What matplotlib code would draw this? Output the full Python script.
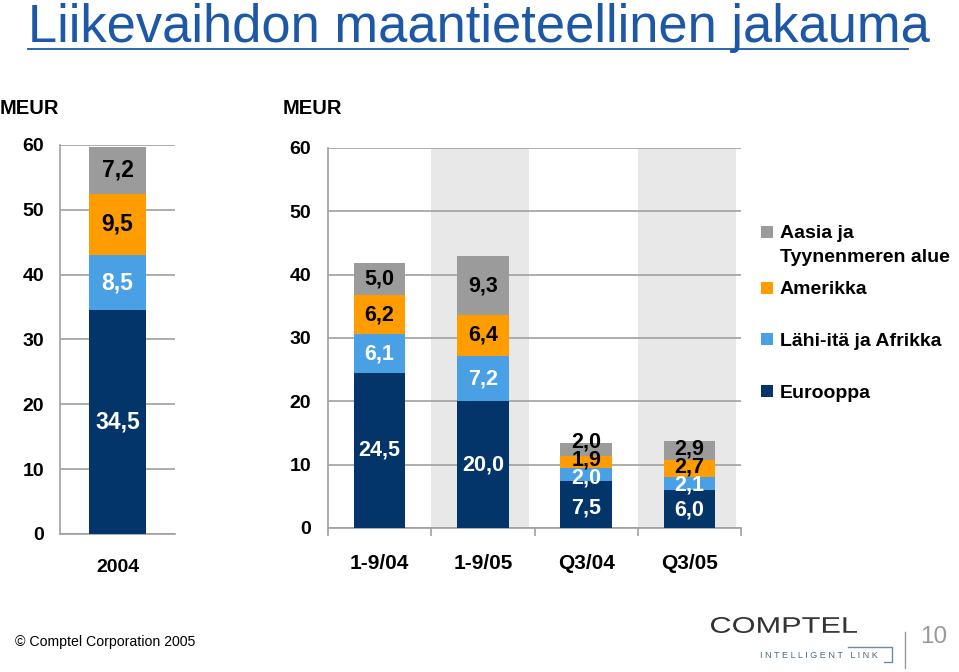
import matplotlib
matplotlib.use('Agg')
import matplotlib.pyplot as plt
from matplotlib.patches import Rectangle, PathPatch
from matplotlib.textpath import TextPath
from matplotlib.font_manager import FontProperties
from matplotlib.transforms import Affine2D
from matplotlib.lines import Line2D

plt.rcParams['font.family'] = ['Liberation Sans', 'DejaVu Sans']

# data
region_names = ['Eurooppa', 'Lähi-itä ja Afrikka', 'Amerikka', 'Aasia ja\nTyynenmeren alue']
year_labels = ['2004']
year_europe = [34.5]
year_mea = [8.5]
year_americas = [9.5]
year_apac = [7.2]

period_labels = ['1-9/04', '1-9/05', 'Q3/04', 'Q3/05']
period_europe = [24.5, 20.0, 7.5, 6.0]
period_mea = [6.1, 7.2, 2.0, 2.1]
period_americas = [6.2, 6.4, 1.9, 2.7]
period_apac = [5.0, 9.3, 2.0, 2.9]

y_ticks = [0, 10, 20, 30, 40, 50, 60]

colors = ['#04356a', '#49a0e4', '#ff9c00', '#9b9b9b']
label_colors = ['white', 'white', 'black', 'black']
grid_color = '#a0a0a0'
band_color = '#e8e8e8'
title_color = '#1d58a7'

W, H = 959, 672
fig = plt.figure(figsize=(W / 100, H / 100), dpi=100)


def fx(x):
    return x / W


def fy(y):
    return 1 - y / H


def draw_stack(ax, cats, series, fs, ax_h_px):
    x = list(range(len(cats)))
    px_per_unit = ax_h_px / 60.0
    min_gap = 18  # px between label centres when a bar is crowded
    bottom = [0] * len(cats)
    mids = [[] for _ in cats]
    for i, vals in enumerate(series):
        ax.bar(x, vals, 0.5, bottom=bottom, color=colors[i], zorder=3)
        for j, v in enumerate(vals):
            mids[j].append((bottom[j] + v / 2) * px_per_unit)
        bottom = [b + v for b, v in zip(bottom, vals)]
    for j in x:
        placed = []
        for m in mids[j]:
            placed.append(m if not placed else max(m, placed[-1] + min_gap))
        shift = sum(p - m for p, m in zip(placed, mids[j])) / len(placed)
        for i, (p, m) in enumerate(zip(placed, mids[j])):
            v = series[i][j]
            dy = (p - shift - m) * 72 / 100
            ax.annotate(f'{v:.1f}'.replace('.', ','), (j, m / px_per_unit),
                        xytext=(0, dy), textcoords='offset points',
                        ha='center', va='center', fontsize=fs,
                        fontweight='bold', color=label_colors[i], zorder=4)


def style_axes(ax):
    ax.set_ylim(0, 60)
    ax.set_yticks(y_ticks)
    ax.yaxis.grid(True, color=grid_color, linewidth=1.2, zorder=1)
    ax.set_axisbelow(True)
    for s in ['top', 'right']:
        ax.spines[s].set_visible(False)
    for s in ['left', 'bottom']:
        ax.spines[s].set_color(grid_color)
        ax.spines[s].set_linewidth(1.2)
    ax.tick_params(axis='y', length=0, labelsize=14)
    for t in ax.get_yticklabels():
        t.set_fontweight('bold')


# left chart: 2004 total
ax1 = fig.add_axes([fx(60), fy(534), fx(115), 389 / H])
draw_stack(ax1, year_labels, [year_europe, year_mea, year_americas, year_apac], 16.5, 389)
ax1.set_xlim(-0.5, 0.5)
style_axes(ax1)
ax1.tick_params(axis='y', pad=11.5)
ax1.set_xticks([0])
ax1.set_xticklabels(year_labels, fontsize=14, fontweight='bold')
ax1.tick_params(axis='x', length=0, pad=18)

# right chart: periods
ax2 = fig.add_axes([fx(328), fy(528), fx(413), 380 / H])
for i in (1, 3):
    ax2.axvspan(i - 0.5, i + 0.45, color=band_color, zorder=0, lw=0)
draw_stack(ax2, period_labels, [period_europe, period_mea, period_americas, period_apac], 15.5, 380)
ax2.set_xlim(-0.5, 3.5)
style_axes(ax2)
ax2.tick_params(axis='y', pad=12)
ax2.set_xticks(range(len(period_labels)))
ax2.set_xticklabels(period_labels, fontsize=15, fontweight='bold')
ax2.set_xticks([i - 0.5 for i in range(len(period_labels) + 1)], minor=True)
ax2.tick_params(axis='x', which='major', length=0, pad=19)
ax2.tick_params(axis='x', which='minor', length=6, width=1.2, color=grid_color, direction='out')

fig.text(fx(0), fy(108), 'MEUR', fontsize=14.5, fontweight='bold', va='center')
fig.text(fx(283), fy(108), 'MEUR', fontsize=14.5, fontweight='bold', va='center')

# title with underline
fig.text(fx(28), fy(42), 'Liikevaihdon maantieteellinen jakauma', fontsize=37.8,
         color=title_color, va='baseline')
fig.add_artist(Line2D([fx(28), fx(908)], [fy(49), fy(49)], color=title_color, lw=1.3))

# legend, top entry first
legend_y = [232, 288, 339, 391]
for k, name in enumerate(region_names[::-1]):
    ci = len(region_names) - 1 - k
    yc = legend_y[k]
    fig.add_artist(Rectangle((fx(761), fy(yc + 6)), fx(12), 12 / H,
                             transform=fig.transFigure, color=colors[ci], lw=0))
    for n, line in enumerate(name.split('\n')):
        fig.text(fx(780), fy(yc + 2 + n * 23), line, fontsize=14,
                 fontweight='bold', va='center')

# footer
fig.text(fx(15), fy(642), '\u00a9 Comptel Corporation 2005', fontsize=10.2, va='center')

logo = TextPath((0, 0), 'COMPTEL', size=100, prop=FontProperties(family='Liberation Sans'))
bb = logo.get_extents()
sx = 146 / bb.width
sy = 16 / bb.height
tr = Affine2D().translate(-bb.x0, -bb.y0).scale(sx / W, sy / H).translate(fx(711), fy(633)) + fig.transFigure
fig.add_artist(PathPatch(logo, transform=tr, facecolor='#333333', lw=0))
fig.text(fx(760), fy(655), 'I N T E L L I G E N T   L I N K', fontsize=6.6,
         color='#4d6b8a', va='center')
fig.add_artist(Line2D([fx(848), fx(892), fx(892), fx(884)],
                      [fy(647), fy(647), fy(662), fy(662)], color='#6d8aa6', lw=1))
fig.add_artist(Line2D([fx(905), fx(905)], [fy(632), fy(668)], color='#9a9a9a', lw=1))
fig.text(fx(920), fy(637), '10', fontsize=17.5, color='#9a9a9a', va='center')

fig.savefig('out.png', dpi=100)
